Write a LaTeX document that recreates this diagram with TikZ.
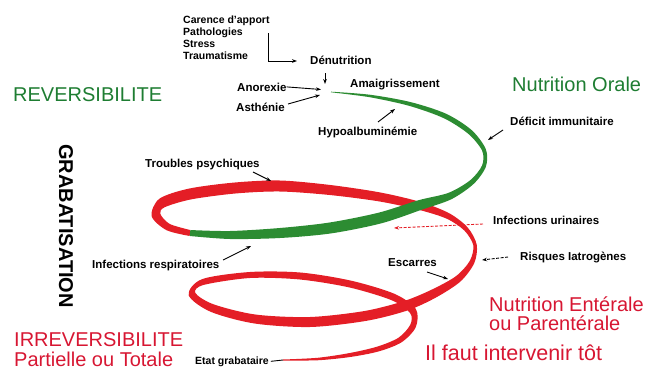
\documentclass[tikz,border=0pt]{standalone}
\usepackage{fontspec}
\setmainfont{Liberation Sans}
\usetikzlibrary{calc,arrows.meta}
\definecolor{ribgreen}{RGB}{44,140,50}
\definecolor{ribred}{RGB}{228,30,38}
\definecolor{txtgreen}{RGB}{30,125,50}
\definecolor{txtred}{RGB}{215,22,50}
\begin{document}
\begin{tikzpicture}[x=1pt,y=-1pt,
  lab/.style={inner sep=0pt, anchor=base west, font=\fontsize{11.5}{13}\selectfont\bfseries},
  lst/.style={inner sep=0pt, anchor=base west, font=\fontsize{10.5}{12}\selectfont\bfseries},
  big/.style={inner sep=0pt, anchor=base west, font=\fontsize{20}{22}\selectfont},
  arr/.style={-{Stealth[length=5pt,width=3.6pt]}, line width=0.9pt},
  dasharr/.style={arr, dash pattern=on 3pt off 1.5pt}]
\useasboundingbox (0,0) rectangle (647,372);

% centre line of the spiral ribbon
\foreach \i/\px/\py in {0/331/92, 1/370/96, 2/410/104, 3/445/116, 4/470/132, 5/484/150,
  6/484/166, 7/472/182, 8/450/196, 9/420/205, 10/380/218, 11/330/228, 12/280/233,
  13/230/235, 14/190/233, 15/168/227, 16/156/215, 17/162/203, 18/190/194, 19/235/188,
  20/280/186, 21/330/190, 22/380/197, 23/420/206, 24/448/216, 25/466/229, 26/475/245,
  27/472/262, 28/458/279, 29/433/294, 30/405/306, 31/365/316, 32/310/322, 33/255/319,
  34/212/308, 35/192/294, 36/203/282, 37/250/275, 38/300/276, 39/350/284, 40/393/297,
  41/413/311, 42/413/326, 43/400/340, 44/378/349, 45/350/355, 46/318/359, 47/283/360}
  {\coordinate (P\i) at (\px,\py);}

% edges of the ribbon
\foreach \i/\w in {0/0.6, 1/2.5, 2/4, 3/5, 4/5, 5/4, 6/4, 7/5, 8/7, 9/10, 10/11, 11/11,
  12/10, 13/8, 14/6, 15/7, 16/9, 17/10, 18/11, 19/11, 20/11, 21/10, 22/9, 23/8, 24/6,
  25/4.5, 26/3.5, 27/5, 28/7, 29/9, 30/10, 31/10, 32/10, 33/9, 34/8, 35/7, 36/6, 37/6,
  38/7, 39/7, 40/7, 41/7, 42/6, 43/5.5, 44/5, 45/4, 46/2.5, 47/1}
{
  \pgfmathtruncatemacro\ia{max(\i-1,0)}
  \pgfmathtruncatemacro\ib{min(\i+1,47)}
  \path let \p1=(P\ia), \p2=(P\ib), \n1={atan2(\y2-\y1,\x2-\x1)} in
    (P\i) ++(\n1+90:0.5*\w pt) coordinate (L\i)
    (P\i) ++(\n1-90:0.5*\w pt) coordinate (R\i);
}

% red part
\fill[ribred] plot[smooth] coordinates {(L14) (L15) (L16) (L17) (L18) (L19) (L20) (L21)
  (L22) (L23) (L24) (L25) (L26) (L27) (L28) (L29) (L30) (L31) (L32) (L33) (L34) (L35)
  (L36) (L37) (L38) (L39) (L40) (L41) (L42) (L43) (L44) (L45) (L46) (L47)}
  -- plot[smooth] coordinates {(R47) (R46) (R45) (R44) (R43) (R42) (R41) (R40) (R39)
  (R38) (R37) (R36) (R35) (R34) (R33) (R32) (R31) (R30) (R29) (R28) (R27) (R26) (R25)
  (R24) (R23) (R22) (R21) (R20) (R19) (R18) (R17) (R16) (R15) (R14)} -- cycle;

% green part
\fill[ribgreen] plot[smooth] coordinates {(L0) (L1) (L2) (L3) (L4) (L5) (L6) (L7) (L8)
  (L9) (L10) (L11) (L12) (L13) (L14)}
  -- plot[smooth] coordinates {(R14) (R13) (R12) (R11) (R10) (R9) (R8) (R7) (R6) (R5)
  (R4) (R3) (R2) (R1) (R0)} -- cycle;

% texts
\node[lst] (c1) at (183,23) {Carence d'apport};
\node[lst] (c2) at (183,35) {Pathologies};
\node[lst] (c3) at (183,47) {Stress};
\node[lst] (c4) at (183,59) {Traumatisme};
\node[lab] (den) at (310,64) {Dénutrition};
\node[lab] (ano) at (237,91) {Anorexie};
\node[lab] (ast) at (236,111) {Asthénie};
\node[lab] (ama) at (350,87) {Amaigrissement};
\node[lab] (hyp) at (318,135) {Hypoalbuminémie};
\node[lab] (def) at (510,125) {Déficit immunitaire};
\node[lab] (tro) at (145,167) {Troubles psychiques};
\node[lab] (irs) at (92,268) {Infections respiratoires};
\node[lab] (iur) at (493,224) {Infections urinaires};
\node[lab] (ris) at (520,260) {Risques Iatrogènes};
\node[lab] (esc) at (388,266) {Escarres};
\node[lab, font=\fontsize{10.5}{12}\selectfont\bfseries] (eta) at (195,364) {Etat grabataire};

\node[big, text=txtgreen] (rev) at (13,101) {REVERSIBILITE};
\node[big, text=txtgreen] (nor) at (512,91) {Nutrition Orale};
\node[big, text=txtred] (irr) at (14,346) {IRREVERSIBILITE};
\node[big, text=txtred] (par) at (14,366) {Partielle ou Totale};
\node[inner sep=0pt, anchor=north west, align=left, text=txtred,
  font=\fontsize{20}{18.5}\selectfont] (nen) at (489,297) {Nutrition Entérale\\ou Parentérale};
\node[big, text=txtred, font=\fontsize{21.5}{23}\selectfont] (tot) at (425,360) {Il faut intervenir tôt};
\node[inner sep=0pt, rotate=-90, font=\fontsize{20}{22}\selectfont\bfseries] (gra) at (66,226) {GRABATISATION};

% arrows
\coordinate (ls) at (268,33);
\coordinate (le) at (297,61);
\draw[arr] (ls) |- (le);
\coordinate (d1) at (325,73);
\coordinate (d2) at (325,84);
\draw[arr] (d1) -- (d2);
\coordinate (t3) at (321,89.5);
\draw[arr] (ano.east) -- (t3);
\coordinate (s4) at (288,104);
\coordinate (t4) at (320,95);
\draw[arr] (s4) -- (t4);
\coordinate (s5) at (378,122);
\coordinate (t5) at (395,109);
\draw[arr] (s5) -- (t5);
\coordinate (s6) at (503,130);
\coordinate (t6) at (488,140);
\draw[arr] (s6) -- (t6);
\coordinate (s7) at (253,172);
\coordinate (t7) at (271,181);
\draw[arr] (s7) -- (t7);
\coordinate (s8) at (223,260);
\coordinate (t8) at (251,246);
\draw[arr] (s8) -- (t8);
\coordinate (s9) at (483,224);
\coordinate (t9) at (394,228);
\draw[dasharr, ribred] (s9) -- (t9);
\coordinate (s10) at (508,257);
\coordinate (t10) at (482,260);
\draw[dasharr] (s10) -- (t10);
\coordinate (s11) at (427,272);
\coordinate (t11) at (448,279);
\draw[arr] (s11) -- (t11);
\draw[line width=0.9pt] ([xshift=2pt]eta.east) -- (P47);
\end{tikzpicture}
\end{document}
